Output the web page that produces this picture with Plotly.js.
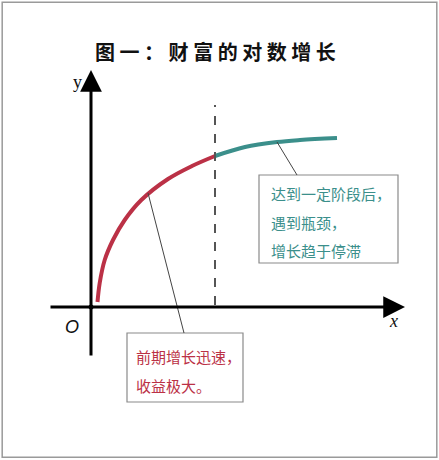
<!DOCTYPE html>
<html>
<head>
<meta charset="utf-8">
<script src="https://cdn.plot.ly/plotly-3.0.1.min.js"></script>
<style>
  html, body { margin: 0; padding: 0; background: #fff; }
  #chart { width: 439px; height: 460px; }
</style>
</head>
<body>
<div id="chart"></div>
<script>
// 数据：读自原图（原点为坐标轴交点）
const earlyX = [6.5, 8.7, 13.7, 22, 33.7, 50.3, 77, 101, 124];
const earlyY = [5, 24, 47, 67, 87, 107, 128, 141, 151];
const lateX = [124, 154, 186, 209, 246];
const lateY = [151, 160, 165, 167, 169];
const turnX = 124;
const chartTitle = '图 一 ： 财 富 的 对 数 增 长';
const lateNote = ['达到一定阶段后，', '遇到瓶颈，', '增长趋于停滞'];
const earlyNote = ['前期增长迅速，', '收益极大。'];

const red = '#bb3146';
const teal = '#3b8f8b';
const cjk = '"Noto Sans CJK SC", "Noto Sans", sans-serif';

const traces = [
  {
    x: earlyX, y: earlyY, type: 'scatter', mode: 'lines',
    line: { color: red, width: 4, shape: 'spline', smoothing: 1 }, hoverinfo: 'skip'
  },
  {
    x: lateX, y: lateY, type: 'scatter', mode: 'lines',
    line: { color: teal, width: 4, shape: 'spline', smoothing: 1 }, hoverinfo: 'skip'
  },
  {
    x: [0], y: [0], type: 'scatter', mode: 'markers',
    marker: { color: '#000', size: 5 }, hoverinfo: 'skip'
  }
];

const notes = [];
lateNote.forEach(function(t, i) {
  notes.push({
    x: 178, y: [114, 85, 57][i], text: t, showarrow: false,
    xanchor: 'left', yanchor: 'middle',
    font: { family: cjk, size: 15, color: teal }
  });
});
earlyNote.forEach(function(t, i) {
  notes.push({
    x: 43, y: [-49, -78][i], text: t, showarrow: false,
    xanchor: 'left', yanchor: 'middle',
    font: { family: cjk, size: 15, color: red }
  });
});

const layout = {
  width: 439, height: 460,
  margin: { l: 0, r: 0, t: 0, b: 0 },
  paper_bgcolor: '#fff', plot_bgcolor: '#fff',
  showlegend: false,
  xaxis: { range: [-91, 348], visible: false, fixedrange: true },
  yaxis: { range: [-153, 307], visible: false, fixedrange: true },
  shapes: [
    // outer frame
    { type: 'rect', xref: 'paper', yref: 'paper', x0: 0.005, x1: 0.995, y0: 0.006, y1: 0.995,
      line: { color: '#9a9a9a', width: 1.5 } },
    // turning point
    { type: 'line', x0: turnX, x1: turnX, y0: 2, y1: 202,
      line: { color: '#555', width: 2, dash: 'dash' } },
    // note boxes
    { type: 'rect', x0: 168, x1: 307, y0: 44, y1: 132,
      line: { color: '#8a8a8a', width: 1.2 }, fillcolor: 'rgba(255,255,255,0)' },
    { type: 'rect', x0: 36, x1: 152, y0: -95, y1: -26,
      line: { color: '#8a8a8a', width: 1.2 }, fillcolor: 'rgba(255,255,255,0)' },
    // leaders
    { type: 'line', x0: 93, y0: -26, x1: 57, y1: 114, line: { color: '#444', width: 1 } },
    { type: 'line', x0: 206, y0: 132, x1: 186, y1: 165, line: { color: '#444', width: 1 } }
  ],
  annotations: [
    { xref: 'paper', yref: 'paper', x: 0.492, y: 0.924, text: chartTitle, showarrow: false,
      font: { family: cjk, size: 20, color: '#111', weight: 'bold' } },
    // axes with arrowheads
    { x: 314, y: 0, ax: -42, ay: 0, axref: 'x', ayref: 'y', text: '', showarrow: true,
      arrowhead: 2, arrowsize: 1.45, arrowwidth: 3, arrowcolor: '#000' },
    { x: 0, y: 237, ax: 0, ay: -50, axref: 'x', ayref: 'y', text: '', showarrow: true,
      arrowhead: 2, arrowsize: 1.45, arrowwidth: 3, arrowcolor: '#000' },
    { x: -14, y: 225, text: 'y', showarrow: false,
      font: { family: 'Liberation Serif, serif', size: 18, color: '#111' } },
    { x: 302, y: -14, text: '<i>x</i>', showarrow: false,
      font: { family: 'Liberation Serif, serif', size: 18, color: '#111' } },
    { x: -19, y: -20, text: '<i>O</i>', showarrow: false,
      font: { family: 'Liberation Sans, sans-serif', size: 18, color: '#111' } }
  ].concat(notes)
};

Plotly.newPlot('chart', traces, layout, { displayModeBar: false, staticPlot: true });
</script>
</body>
</html>
